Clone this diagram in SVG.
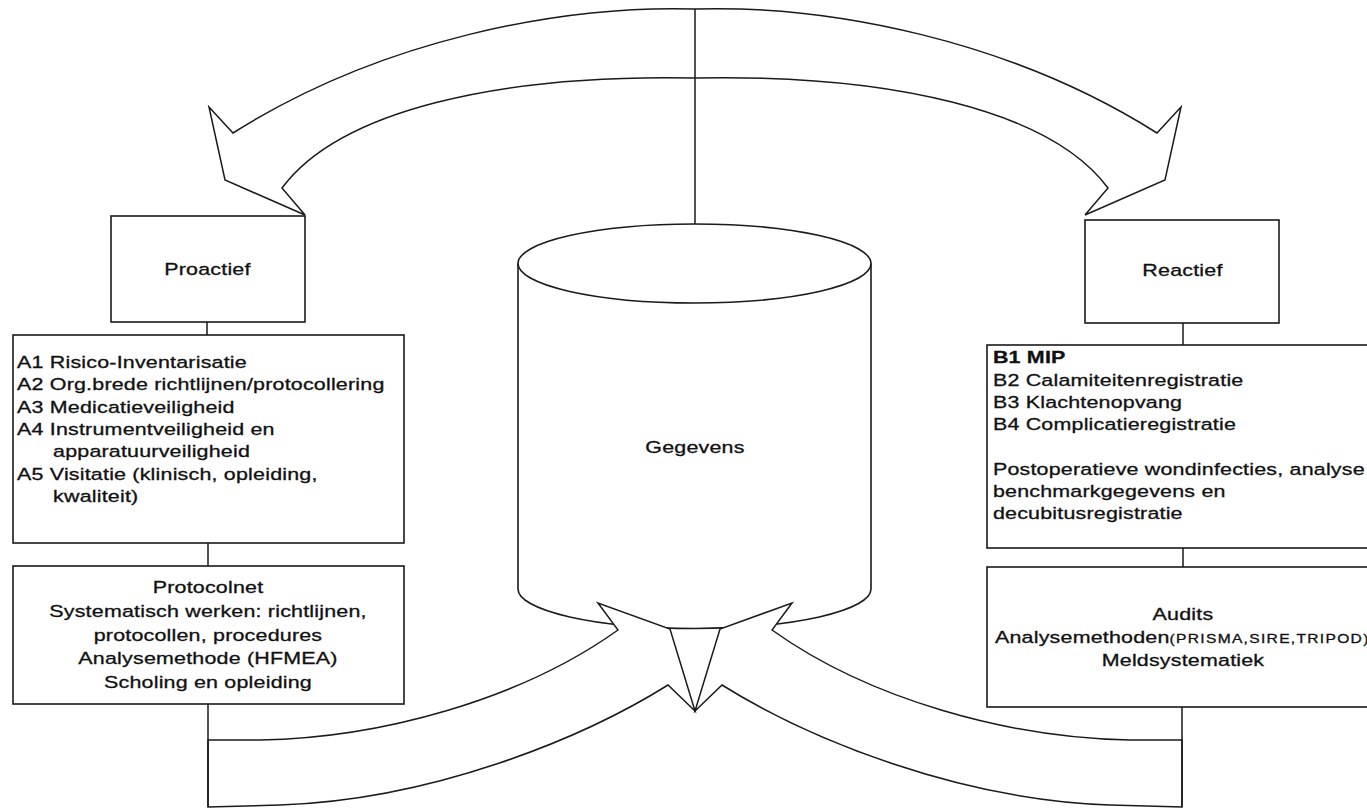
<svg xmlns="http://www.w3.org/2000/svg" width="1367" height="809" viewBox="0 0 1367 809">
<style>
.ln{fill:none;stroke:#1a1a1a;stroke-width:1.5;stroke-linejoin:miter}
.ar{fill:#fff;stroke:#1a1a1a;stroke-width:1.5;stroke-linejoin:miter}
.box{fill:#fff;stroke:#1a1a1a;stroke-width:1.6}
.t{font-family:"Liberation Sans",Arial,sans-serif;font-size:16.5px;letter-spacing:0.15px;fill:#111;stroke:#111;stroke-width:0.3}
.c{text-anchor:middle}
.s{font-size:12px;letter-spacing:1px}
</style>
<rect width="1367" height="809" fill="#fff"/>

<g id="gegevens">
  <path class="box" d="M518,263.5 L518,589 A176.5,39.5 0 0 0 871,589 L871,263.5"/>
  <ellipse class="box" cx="694.5" cy="263.5" rx="176.5" ry="39.5"/>
  <g transform="scale(1.3 1)">
    <text class="t c" x="534.6" y="453">Gegevens</text>
  </g>
</g>

<g id="proactief">
  <rect class="box" x="111" y="216" width="194" height="106"/>
  <g transform="scale(1.3 1)">
    <text class="t c" x="159.6" y="275">Proactief</text>
  </g>
</g>

<g id="reactief">
  <rect class="box" x="1085" y="220" width="194" height="103"/>
  <g transform="scale(1.3 1)">
    <text class="t c" x="909.6" y="276">Reactief</text>
  </g>
</g>

<g id="a-lijst">
  <rect class="box" x="13" y="335" width="391" height="208"/>
  <g transform="scale(1.3 1)">
    <text class="t" x="13.1" y="368">A1 Risico-Inventarisatie</text>
    <text class="t" x="13.1" y="390">A2 Org.brede richtlijnen/protocollering</text>
    <text class="t" x="13.1" y="413">A3 Medicatieveiligheid</text>
    <text class="t" x="13.1" y="435">A4 Instrumentveiligheid en</text>
    <text class="t" x="40.8" y="457">apparatuurveiligheid</text>
    <text class="t" x="13.1" y="480">A5 Visitatie (klinisch, opleiding,</text>
    <text class="t" x="40.8" y="502">kwaliteit)</text>
  </g>
</g>

<g id="b-lijst">
  <rect class="box" x="987" y="345" width="400" height="203"/>
  <g transform="scale(1.3 1)">
    <text class="t" x="763.8" y="363" font-weight="bold">B1 MIP</text>
    <text class="t" x="763.8" y="386">B2 Calamiteitenregistratie</text>
    <text class="t" x="763.8" y="408">B3 Klachtenopvang</text>
    <text class="t" x="763.8" y="430">B4 Complicatieregistratie</text>
    <text class="t" x="763.8" y="475">Postoperatieve wondinfecties, analyse</text>
    <text class="t" x="763.8" y="497">benchmarkgegevens en</text>
    <text class="t" x="763.8" y="519">decubitusregistratie</text>
  </g>
</g>

<g id="protocolnet">
  <rect class="box" x="13" y="566" width="391" height="138"/>
  <g transform="scale(1.3 1)">
    <text class="t c" x="160" y="593">Protocolnet</text>
    <text class="t c" x="160" y="617">Systematisch werken: richtlijnen,</text>
    <text class="t c" x="160" y="641">protocollen, procedures</text>
    <text class="t c" x="160" y="664">Analysemethode (HFMEA)</text>
    <text class="t c" x="160" y="688">Scholing en opleiding</text>
  </g>
</g>

<g id="audits">
  <rect class="box" x="987" y="567" width="400" height="140"/>
  <g transform="scale(1.3 1)">
    <text class="t c" x="910" y="620">Audits</text>
    <text class="t" x="765.4" y="643">Analysemethoden<tspan class="s">(PRISMA,SIRE,TRIPOD)</tspan></text>
    <text class="t c" x="910" y="666">Meldsystematiek</text>
  </g>
</g>

<g id="connectors">
  <path class="ln" d="M233,133 C380,40 560,5 695,9 C830,5 1010,40 1157,133 L1181,107 L1165,180 L1085,215 L1108,188 C1050,110 890,74 695,78 C500,74 340,110 282,188 L305,215 L225,180 L209,107 Z"/>
  <path class="ln" d="M695,9 V224"/>
  <path class="ar" d="M208,740 L260,740 C380,738 520,700 618,630 L598,603 L670,629 L695,711 L668,685 C580,740 430,800 280,805 L208,807 Z"/>
  <path class="ar" d="M1182,740 L1130,740 C1010,738 870,700 772,630 L792,603 L720,629 L695,711 L722,685 C810,740 960,800 1110,805 L1182,807 Z"/>
  <path class="ln" d="M207,322 V335"/>
  <path class="ln" d="M208,543 V566"/>
  <path class="ln" d="M208,704 V807"/>
  <path class="ln" d="M1183,323 V345"/>
  <path class="ln" d="M1183,548 V567"/>
  <path class="ln" d="M1182,707 V807"/>
</g>
</svg>
